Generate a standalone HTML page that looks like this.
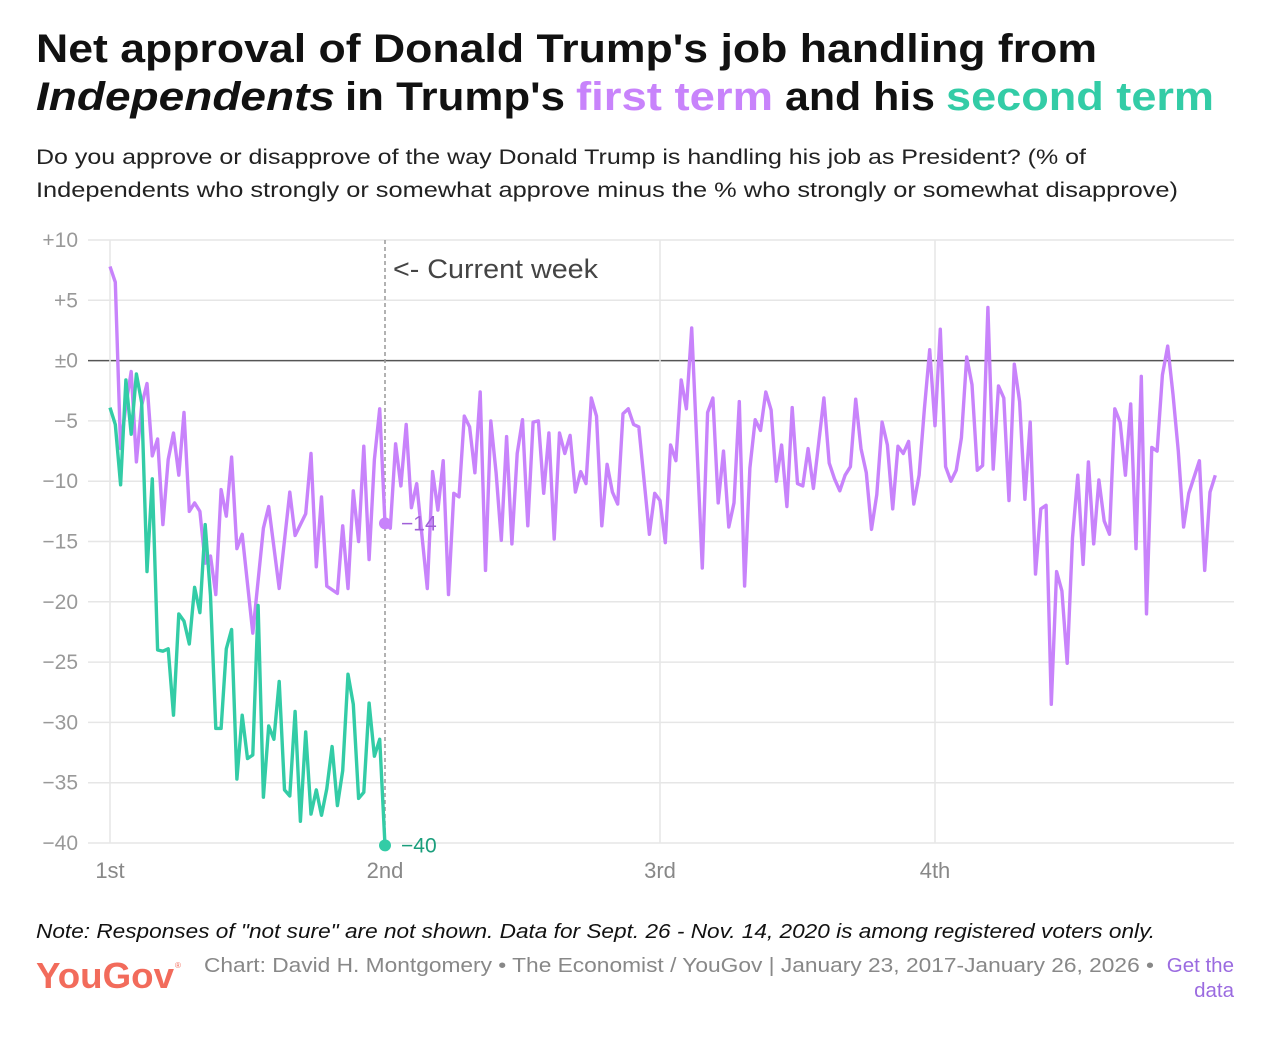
<!DOCTYPE html>
<html><head><meta charset="utf-8"><style>
html,body{margin:0;padding:0;background:#fff}
svg{display:block;font-family:"Liberation Sans",sans-serif}
</style></head><body>
<svg id="chart" width="1264" height="1038" viewBox="0 0 1264 1038">
<g font-weight="bold" font-size="40" fill="#111">
<text x="36" y="62" textLength="1061" lengthAdjust="spacingAndGlyphs">Net approval of Donald Trump's job handling from</text>
<text x="36" y="110" textLength="299" lengthAdjust="spacingAndGlyphs" font-style="italic">Independents</text>
<text x="345" y="110" textLength="220" lengthAdjust="spacingAndGlyphs">in Trump's</text>
<text x="576" y="110" textLength="197" lengthAdjust="spacingAndGlyphs" fill="#c883fb">first term</text>
<text x="785" y="110" textLength="150" lengthAdjust="spacingAndGlyphs">and his</text>
<text x="946" y="110" textLength="268" lengthAdjust="spacingAndGlyphs" fill="#33cca6">second term</text>
</g>
<g font-size="21" fill="#222">
<text x="36" y="164" textLength="1050" lengthAdjust="spacingAndGlyphs">Do you approve or disapprove of the way Donald Trump is handling his job as President? (% of</text>
<text x="36" y="197" textLength="1142" lengthAdjust="spacingAndGlyphs">Independents who strongly or somewhat approve minus the % who strongly or somewhat disapprove)</text>
</g>
<g id="grid"></g>
<g id="yaxis"></g>
<g id="xaxis"></g>
<g id="series"></g>
<text x="393" y="278" font-size="27" fill="#444" textLength="205" lengthAdjust="spacingAndGlyphs">&lt;- Current week</text>
<text x="36" y="938" font-size="20.5" font-style="italic" fill="#111" textLength="1119" lengthAdjust="spacingAndGlyphs">Note: Responses of "not sure" are not shown. Data for Sept. 26 - Nov. 14, 2020 is among registered voters only.</text>
<text x="36" y="988" font-size="36" font-weight="bold" fill="#f26b5b" textLength="138" lengthAdjust="spacingAndGlyphs">YouGov</text>
<text x="175" y="968" font-size="8" fill="#f26b5b">®</text>
<text x="204" y="972" font-size="20.5" fill="#888" textLength="950" lengthAdjust="spacingAndGlyphs">Chart: David H. Montgomery • The Economist / YouGov | January 23, 2017-January 26, 2026 •</text>
<text x="1234" y="972" font-size="20.5" fill="#9b6be0" text-anchor="end">Get the</text>
<text x="1234" y="997" font-size="20.5" fill="#9b6be0" text-anchor="end">data</text>
</svg>
<script>
const yTicks = [10, 5, 0, -5, -10, -15, -20, -25, -30, -35, -40];
const yTickLabels = ["+10", "+5", "±0", "−5", "−10", "−15", "−20", "−25", "−30", "−35", "−40"];
const xTickWeeks = [0, 52, 104, 156];
const xTickLabels = ["1st", "2nd", "3rd", "4th"];
const currentWeek = 52;
const firstTermWeeks = [0,1,2,3,4,5,6,7,8,9,10,11,12,13,14,15,16,17,18,19,20,21,22,23,24,25,27,29,30,32,34,35,37,38,39,40,41,43,44,45,46,47,48,49,50,51,52,53,54,55,56,57,58,60,61,62,63,64,65,66,67,68,69,70,71,72,73,74,75,76,77,78,79,80,81,82,83,84,85,86,87,88,89,90,91,92,93,94,95,96,97,98,99,100,102,103,104,105,106,107,108,109,110,112,113,114,115,116,117,118,119,120,121,122,123,124,125,126,127,128,129,130,131,132,133,135,136,137,138,139,140,141,142,143,144,145,146,147,148,149,150,151,152,153,154,155,156,157,158,159,160,161,162,163,164,165,166,167,168,169,170,171,172,173,174,175,176,177,178,179,180,181,182,183,184,185,186,187,188,189,190,191,192,193,194,195,196,197,198,199,200,201,202,203,204,206,207,208,209];
const firstTermValues = [7.8,6.5,-7.3,-3.7,-0.9,-8.4,-3.7,-1.9,-7.9,-6.5,-13.6,-8.2,-6.0,-9.5,-4.3,-12.5,-11.8,-12.5,-16.8,-16.2,-19.4,-10.7,-12.9,-8.0,-15.6,-14.4,-22.6,-13.9,-12.1,-18.9,-10.9,-14.5,-12.7,-7.7,-17.1,-11.3,-18.7,-19.3,-13.7,-18.9,-10.8,-15.0,-7.1,-16.5,-8.2,-4.0,-13.5,-13.9,-6.9,-10.4,-5.3,-12.2,-10.2,-18.9,-9.2,-12.4,-8.3,-19.4,-11.0,-11.3,-4.6,-5.5,-9.3,-2.6,-17.4,-5.0,-9.3,-14.9,-6.3,-15.2,-7.7,-4.9,-13.7,-5.1,-5.0,-11.0,-6.0,-14.8,-6.0,-7.7,-6.2,-10.9,-9.2,-10.2,-3.1,-4.6,-13.7,-8.6,-10.9,-11.9,-4.4,-4.0,-5.3,-5.5,-14.4,-11.0,-11.6,-15.1,-7.0,-8.3,-1.6,-4.0,2.7,-17.2,-4.3,-3.1,-11.8,-7.5,-13.8,-11.8,-3.4,-18.7,-8.9,-4.9,-5.8,-2.6,-4.1,-10.0,-7.0,-12.1,-3.9,-10.2,-10.4,-7.3,-10.6,-3.1,-8.5,-9.8,-10.8,-9.5,-8.8,-3.2,-7.3,-9.3,-14.0,-11.1,-5.1,-7.0,-12.3,-7.1,-7.7,-6.7,-11.9,-9.5,-4.0,0.9,-5.4,2.6,-8.8,-10.0,-9.1,-6.4,0.3,-2.0,-9.1,-8.7,4.4,-9.0,-2.1,-3.1,-11.6,-0.3,-3.4,-11.5,-5.1,-17.7,-12.3,-12.0,-28.5,-17.5,-19.1,-25.1,-14.7,-9.5,-16.9,-8.4,-15.2,-9.9,-13.3,-14.4,-4.0,-5.1,-9.5,-3.6,-15.6,-1.3,-21.0,-7.2,-7.5,-1.2,1.2,-2.8,-7.5,-13.8,-11.0,-8.3,-17.4,-10.9,-9.5];
const secondTermWeeks = [0,1,2,3,4,5,6,7,8,9,10,11,12,13,14,15,16,17,18,19,20,21,22,23,24,25,26,27,28,29,30,31,32,33,34,35,36,37,38,39,40,41,42,43,44,45,46,47,48,49,50,51,52];
const secondTermValues = [-3.9,-5.3,-10.3,-1.6,-6.1,-1.1,-3.5,-17.5,-9.8,-24.0,-24.1,-23.9,-29.4,-21.0,-21.6,-23.5,-18.8,-20.9,-13.6,-19.5,-30.5,-30.5,-23.9,-22.3,-34.7,-29.4,-33.0,-32.7,-20.3,-36.2,-30.3,-31.4,-26.6,-35.6,-36.1,-29.1,-38.2,-30.8,-37.6,-35.6,-37.7,-35.5,-32.0,-36.9,-34.0,-26.0,-28.5,-36.3,-35.8,-28.4,-32.8,-31.4,-40.2];
const firstLabel = "−14";
const secondLabel = "−40";

const NS = "http://www.w3.org/2000/svg";
const X0 = 110, WEEKPX = 275 / 52, PLOT_L = 88, PLOT_R = 1234;
const Y_TOP = 240, Y_BOT = 843;
function xs(w) { return X0 + w * WEEKPX; }
function ys(v) { return Y_TOP + (10 - v) * (Y_BOT - Y_TOP) / 50; }
function mk(tag, attrs, parent) {
  const el = document.createElementNS(NS, tag);
  for (const k in attrs) el.setAttribute(k, attrs[k]);
  parent.appendChild(el);
  return el;
}
const grid = document.getElementById('grid');
const yaxis = document.getElementById('yaxis');
const xaxis = document.getElementById('xaxis');
const series = document.getElementById('series');

yTicks.forEach((t, i) => {
  const l = mk('line', {x1: PLOT_L, x2: PLOT_R, y1: ys(t), y2: ys(t), stroke: t === 0 ? '#555' : '#e6e6e6', 'stroke-width': 1.5}, grid);
  
  
  const tx = mk('text', {x: 78, y: ys(t) + 7, 'text-anchor': 'end', 'font-size': 21, fill: '#999'}, yaxis);
  tx.textContent = yTickLabels[i];
  
  
});
xTickWeeks.forEach((w, i) => {
  if (w !== currentWeek) {
    const l = mk('line', {x1: xs(w), x2: xs(w), y1: Y_TOP, y2: Y_BOT, stroke: '#e6e6e6', 'stroke-width': 1.5}, grid);
    
    
  }
  const tx = mk('text', {x: xs(w), y: 878, 'text-anchor': 'middle', 'font-size': 22, fill: '#888'}, xaxis);
  tx.textContent = xTickLabels[i];
  
  
});
const cw = mk('line', {x1: xs(currentWeek), x2: xs(currentWeek), y1: Y_TOP, y2: Y_BOT, stroke: '#999', 'stroke-width': 1.5, 'stroke-dasharray': '4,3'}, grid);



function drawLine(weeks, vals, color, name) {
  const d = weeks.map((w, i) => (i ? 'L' : 'M') + xs(w).toFixed(1) + ',' + ys(vals[i]).toFixed(1)).join('');
  const p = mk('path', {d: d, fill: 'none', stroke: color, 'stroke-width': 3.4, 'stroke-linejoin': 'round'}, series);
  
  
}
drawLine(firstTermWeeks, firstTermValues, '#c883fb', 'first-term-line');
drawLine(secondTermWeeks, secondTermValues, '#33cca6', 'second-term-line');

const fi = firstTermWeeks.indexOf(currentWeek);
const d1 = mk('circle', {cx: xs(currentWeek), cy: ys(firstTermValues[fi]), r: 6, fill: '#c883fb'}, series);


const t1 = mk('text', {x: xs(currentWeek) + 16, y: ys(firstTermValues[fi]) + 7, 'font-size': 21, fill: '#a060d8'}, series);
t1.textContent = firstLabel;


const si = secondTermWeeks.indexOf(currentWeek);
const d2 = mk('circle', {cx: xs(currentWeek), cy: ys(secondTermValues[si]), r: 6, fill: '#33cca6'}, series);


const t2 = mk('text', {x: xs(currentWeek) + 16, y: ys(secondTermValues[si]) + 7, 'font-size': 21, fill: '#1a9e7c'}, series);
t2.textContent = secondLabel;


</script>
</body></html>
